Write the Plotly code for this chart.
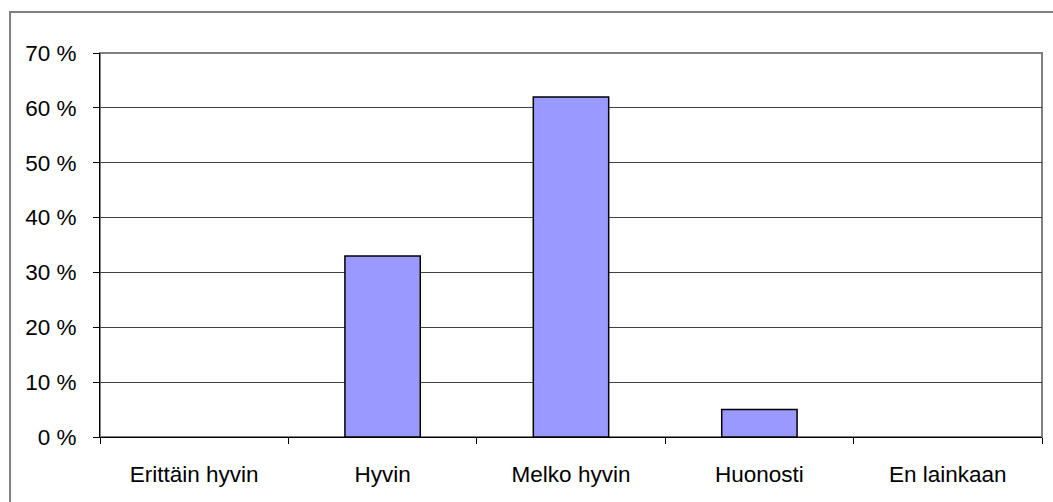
import plotly.graph_objects as go

categories = ["Erittäin hyvin", "Hyvin", "Melko hyvin", "Huonosti", "En lainkaan"]
shares = [0, 33, 62, 5, 0]
y_ticks = [0, 10, 20, 30, 40, 50, 60, 70]
y_tick_labels = [f"{v} %" for v in y_ticks]

# empty categories get no outline so no flat line is drawn at zero
outline_widths = [1.5 if v > 0 else 0 for v in shares]

fig = go.Figure(
    go.Bar(
        x=categories,
        y=shares,
        width=0.4,
        marker=dict(color="#9999FF", line=dict(color="#000000", width=outline_widths)),
        hoverinfo="skip",
    )
)

font = dict(family="Liberation Sans, Arial, sans-serif", size=22.5, color="#000000")

fig.update_layout(
    width=1053,
    height=502,
    margin=dict(l=100, r=11, t=53, b=65),
    paper_bgcolor="white",
    plot_bgcolor="white",
    showlegend=False,
    font=font,
    xaxis=dict(
        range=[-0.5, 4.5],
        tickson="boundaries",
        ticks="outside",
        ticklen=6,
        tickcolor="#000000",
        tickfont=font,
        showline=True,
        linecolor="#000000",
        linewidth=1,
        showgrid=False,
        ticklabelstandoff=17,
        fixedrange=True,
    ),
    yaxis=dict(
        range=[0, 70],
        tickmode="array",
        tickvals=y_ticks,
        ticktext=y_tick_labels,
        ticks="outside",
        ticklen=6,
        tickcolor="#000000",
        tickfont=font,
        showline=True,
        linecolor="#000000",
        linewidth=1,
        showgrid=True,
        gridcolor="#404040",
        gridwidth=1,
        zeroline=False,
        ticklabelstandoff=12,
        fixedrange=True,
    ),
    shapes=[
        # plot-area frame (top and right edges show in gray)
        dict(type="rect", xref="paper", yref="paper", x0=0, x1=1, y0=0, y1=1,
             line=dict(color="#808080", width=2), layer="below"),
        # outer chart frame, running past the right and bottom edges
        dict(type="rect", xref="paper", yref="paper", x0=-0.0955, x1=1.2,
             y0=-0.5, y1=1.1068, line=dict(color="#808080", width=2), layer="below"),
    ],
)

fig.write_html("out.html")
